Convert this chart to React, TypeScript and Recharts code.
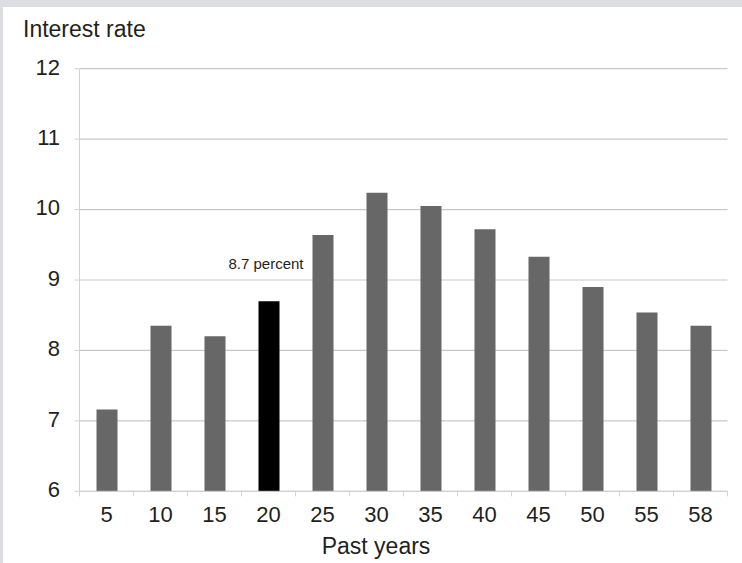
import React from 'react'
import { Bar, BarChart, CartesianGrid, Cell, LabelList, XAxis, YAxis } from 'recharts'

// Interest rate by number of past years
const years = ['5', '10', '15', '20', '25', '30', '35', '40', '45', '50', '55', '58']
const rates = [7.16, 8.35, 8.2, 8.7, 9.64, 10.24, 10.05, 9.72, 9.33, 8.9, 8.54, 8.35]
const rateTicks = [6, 7, 8, 9, 10, 11, 12]
const highlightYear = '20'

const data = years.map((year, i) => ({ year, rate: rates[i] }))

const W = 742
const H = 563
const MARGIN = { top: 68.7, right: 14.5, bottom: 0, left: 0 }
const Y_AXIS_W = 79.5
const X_AXIS_H = 71.7
const BAND = (W - MARGIN.left - MARGIN.right - Y_AXIS_W) / years.length

const FONT = '"Liberation Sans", Arial, Helvetica, sans-serif'
const INK = '#231f20'
const GRID = '#c9c9c9'
const AXIS = '#d2d2d2'

// category ticks sit on the band edges, labels at band centres
function YearTick(props: any) {
  const { x, y, payload, index } = props
  const left = x - BAND / 2
  return (
    <g>
      <line x1={left} y1={y} x2={left} y2={y + 5} stroke={AXIS} />
      {index === years.length - 1 && (
        <line x1={x + BAND / 2} y1={y} x2={x + BAND / 2} y2={y + 5} stroke={AXIS} />
      )}
      <text x={x} y={y + 30.4} textAnchor="middle" fontSize={22} fill={INK} fontFamily={FONT}>
        {payload.value}
      </text>
    </g>
  )
}

function HighlightLabel(props: any) {
  const { x, y, width, value, index } = props
  if (years[index] !== highlightYear) return null
  return (
    <text
      x={x + width / 2 - 3}
      y={y - 32}
      textAnchor="middle"
      fontSize={15}
      fill={INK}
      fontFamily={FONT}
    >
      {`${value} percent`}
    </text>
  )
}

export default function App() {
  return (
    <div
      style={{
        position: 'fixed',
        left: 0,
        top: 0,
        width: W,
        height: H,
        background: '#dcdde0',
        fontFamily: FONT,
      }}
    >
      <div
        style={{ position: 'absolute', left: 3, top: 7, right: 0, bottom: 0, background: '#fff' }}
      />
      <div style={{ position: 'absolute', left: 0, top: 0 }}>
        <BarChart width={W} height={H} data={data} margin={MARGIN} barSize={21}>
          <CartesianGrid stroke={GRID} strokeWidth={1.2} vertical={false} />
          <XAxis
            dataKey="year"
            height={X_AXIS_H}
            axisLine={{ stroke: AXIS }}
            tickLine={false}
            tickSize={0}
            tickMargin={0}
            interval={0}
            tick={<YearTick />}
            label={() => (
              <text x={376} y={554.3} textAnchor="middle" fontSize={23} fill={INK} fontFamily={FONT}>
                Past years
              </text>
            )}
          />
          <YAxis
            width={Y_AXIS_W}
            domain={[6, 12]}
            ticks={rateTicks}
            interval={0}
            axisLine={{ stroke: AXIS }}
            tickLine={{ stroke: AXIS }}
            tickSize={5}
            tickMargin={14.5}
            tick={{ fontSize: 22, fill: INK, fontFamily: FONT, dy: -2 }}
            label={() => (
              <text x={23} y={MARGIN.top - 32} fontSize={23} fill={INK} fontFamily={FONT}>
                Interest rate
              </text>
            )}
          />
          <Bar dataKey="rate" isAnimationActive={false}>
            {data.map((d) => (
              <Cell key={d.year} fill={d.year === highlightYear ? '#000000' : '#676767'} />
            ))}
            <LabelList dataKey="rate" content={<HighlightLabel />} />
          </Bar>
        </BarChart>
      </div>
    </div>
  )
}
